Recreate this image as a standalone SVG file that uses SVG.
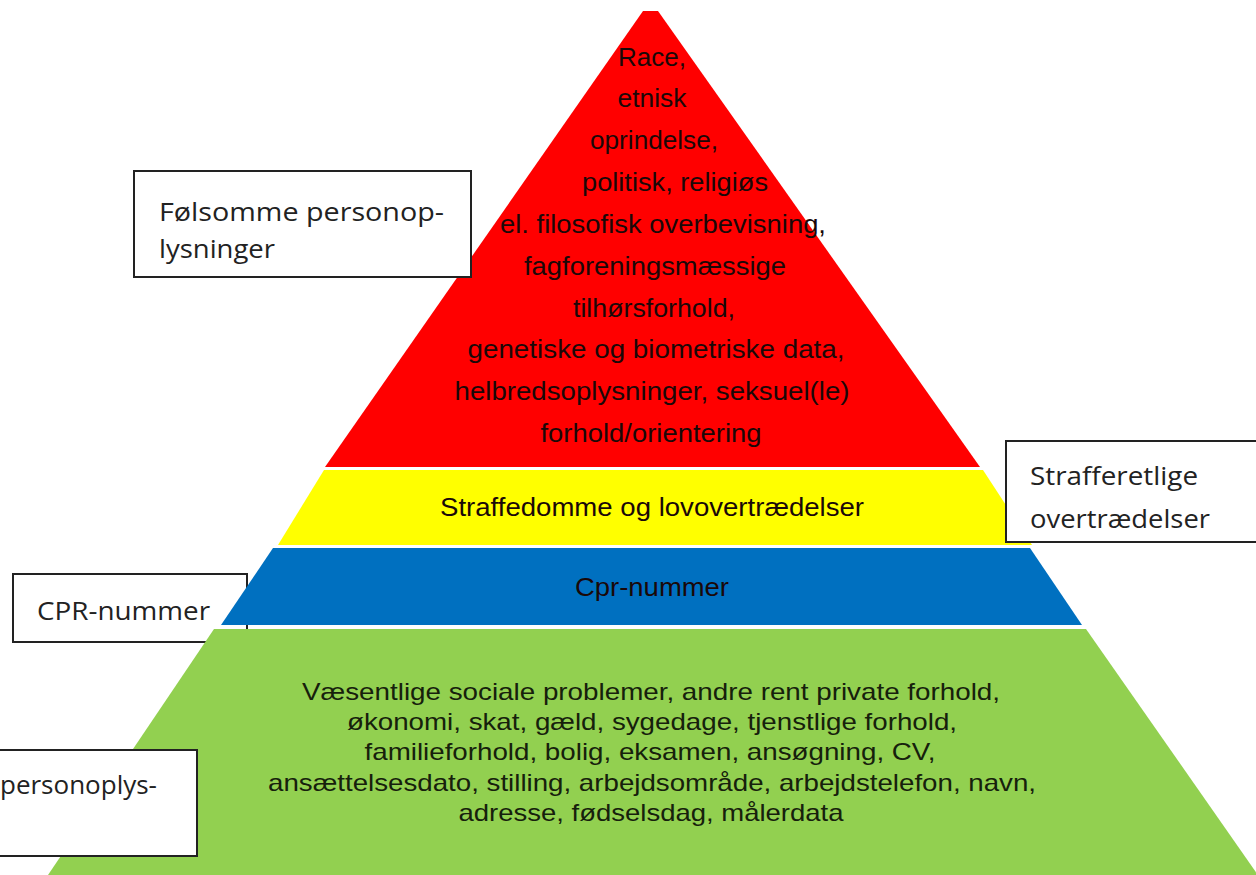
<svg xmlns="http://www.w3.org/2000/svg" width="1256" height="875" viewBox="0 0 1256 875">
  <defs>
    <style>
      .layer-text { font-family: "Liberation Sans", Arial, sans-serif; font-size: 25px; fill: #1a0808; text-anchor: middle; }
      .green-text { font-family: "Liberation Sans", Arial, sans-serif; font-size: 24px; fill: #16200c; text-anchor: middle; }
      .label-box { fill: #ffffff; stroke: #222222; stroke-width: 2; }
      .label-text { font-family: "Open Sans", "Noto Sans", sans-serif; font-size: 26px; fill: #222222; }
    </style>
  </defs>
  <rect width="1256" height="875" fill="#ffffff"/>

  <!-- CPR label sits behind the pyramid -->
  <g id="label-cpr">
    <rect class="label-box" x="13" y="574" width="234" height="68"/>
    <text class="label-text" x="37" y="620" textLength="173" lengthAdjust="spacingAndGlyphs">CPR-nummer</text>
  </g>

  <!-- Pyramid layers -->
  <g id="layer-sensitive">
    <polygon points="643,11 658,11 980,467 325,467" fill="#ff0000"/>
    <text class="layer-text" x="652" y="66" textLength="68" lengthAdjust="spacingAndGlyphs">Race,</text>
    <text class="layer-text" x="652" y="107" textLength="69" lengthAdjust="spacingAndGlyphs">etnisk</text>
    <text class="layer-text" x="654" y="149" textLength="128" lengthAdjust="spacingAndGlyphs">oprindelse,</text>
    <text class="layer-text" x="675" y="191" textLength="186" lengthAdjust="spacingAndGlyphs">politisk, religiøs</text>
    <text class="layer-text" x="663" y="233" textLength="326" lengthAdjust="spacingAndGlyphs">el. filosofisk overbevisning,</text>
    <text class="layer-text" x="655" y="275" textLength="262" lengthAdjust="spacingAndGlyphs">fagforeningsmæssige</text>
    <text class="layer-text" x="654" y="317" textLength="162" lengthAdjust="spacingAndGlyphs">tilhørsforhold,</text>
    <text class="layer-text" x="656" y="358" textLength="377" lengthAdjust="spacingAndGlyphs">genetiske og biometriske data,</text>
    <text class="layer-text" x="652" y="400" textLength="395" lengthAdjust="spacingAndGlyphs">helbredsoplysninger, seksuel(le)</text>
    <text class="layer-text" x="651" y="442" textLength="221" lengthAdjust="spacingAndGlyphs">forhold/orientering</text>
  </g>

  <g id="layer-criminal">
    <polygon points="324,470 983,470 1032,545 278,545" fill="#ffff00"/>
    <text class="layer-text" x="652" y="516" font-size="24" textLength="424" lengthAdjust="spacingAndGlyphs">Straffedomme og lovovertrædelser</text>
  </g>

  <g id="layer-cpr">
    <polygon points="273,548 1030,548 1082,625 221,625" fill="#0070c0"/>
    <text class="layer-text" x="652" y="596" font-size="24" textLength="154" lengthAdjust="spacingAndGlyphs">Cpr-nummer</text>
  </g>

  <g id="layer-general">
    <polygon points="214,629 1086,629 1258,875 48,875" fill="#92d050"/>
    <text class="green-text" x="651" y="700" textLength="698" lengthAdjust="spacingAndGlyphs">Væsentlige sociale problemer, andre rent private forhold,</text>
    <text class="green-text" x="652" y="730" textLength="610" lengthAdjust="spacingAndGlyphs">økonomi, skat, gæld, sygedage, tjenstlige forhold,</text>
    <text class="green-text" x="650" y="760" textLength="571" lengthAdjust="spacingAndGlyphs">familieforhold, bolig, eksamen, ansøgning, CV,</text>
    <text class="green-text" x="652" y="791" textLength="768" lengthAdjust="spacingAndGlyphs">ansættelsesdato, stilling, arbejdsområde, arbejdstelefon, navn,</text>
    <text class="green-text" x="651" y="821" textLength="385" lengthAdjust="spacingAndGlyphs">adresse, fødselsdag, målerdata</text>
  </g>

  <!-- Labels drawn over the pyramid -->
  <g id="label-sensitive">
    <rect class="label-box" x="134" y="171" width="337" height="106"/>
    <text class="label-text" x="159" y="221" textLength="285" lengthAdjust="spacingAndGlyphs">Følsomme personop-</text>
    <text class="label-text" x="159" y="258" textLength="116" lengthAdjust="spacingAndGlyphs">lysninger</text>
  </g>

  <g id="label-criminal">
    <rect class="label-box" x="1006" y="441" width="260" height="101"/>
    <text class="label-text" x="1030" y="485" textLength="168" lengthAdjust="spacingAndGlyphs">Strafferetlige</text>
    <text class="label-text" x="1030" y="528" textLength="180" lengthAdjust="spacingAndGlyphs">overtrædelser</text>
  </g>

  <g id="label-general">
    <rect class="label-box" x="-10" y="750" width="207" height="106"/>
    <text class="label-text" x="157" y="794" text-anchor="end">personoplys-</text>
  </g>
</svg>
